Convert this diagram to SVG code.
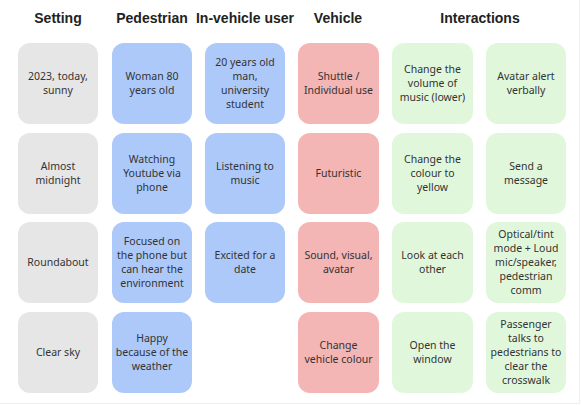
<svg xmlns="http://www.w3.org/2000/svg" width="581" height="405" viewBox="0 0 581 405">
<style>
.h{font-family:"Liberation Sans",Arial,sans-serif;font-weight:bold;font-size:14px;fill:#222;text-anchor:middle}
.t{font-family:"Noto Sans","Open Sans",sans-serif;font-size:10.5px;fill:#333;text-anchor:middle}
.c{rx:12;ry:12}
.g{fill:#e6e6e6}.b{fill:#adc9f9}.r{fill:#f4b5b5}.n{fill:#e1f7dc}
</style>
<rect width="581" height="405" fill="#fff"/>
<line x1="579.5" y1="0" x2="579.5" y2="404" stroke="#efefef"/>
<line x1="0" y1="403.5" x2="580" y2="403.5" stroke="#efefef"/>
<g id="headers">
<text class="h" x="58" y="23">Setting</text>
<text class="h" x="152" y="23">Pedestrian</text>
<text class="h" x="245" y="23">In-vehicle user</text>
<text class="h" x="338" y="23">Vehicle</text>
<text class="h" x="480" y="23">Interactions</text>
</g>
<g id="connectors"></g>
<g id="setting1"><rect class="c g" x="18" y="43" width="80" height="81"/><text class="t" x="58" y="80">2023, today,</text><text class="t" x="58" y="94">sunny</text></g>
<g id="setting2"><rect class="c g" x="18" y="133" width="80" height="81"/><text class="t" x="58" y="170">Almost</text><text class="t" x="58" y="184">midnight</text></g>
<g id="setting3"><rect class="c g" x="18" y="222" width="80" height="81"/><text class="t" x="58" y="266">Roundabout</text></g>
<g id="setting4"><rect class="c g" x="18" y="312" width="80" height="81"/><text class="t" x="58" y="356">Clear sky</text></g>

<g id="ped1"><rect class="c b" x="112" y="43" width="80" height="81"/><text class="t" x="152" y="80">Woman 80</text><text class="t" x="152" y="94">years old</text></g>
<g id="ped2"><rect class="c b" x="112" y="133" width="80" height="81"/><text class="t" x="152" y="163">Watching</text><text class="t" x="152" y="177">Youtube via</text><text class="t" x="152" y="191">phone</text></g>
<g id="ped3"><rect class="c b" x="112" y="222" width="80" height="81"/><text class="t" x="152" y="245">Focused on</text><text class="t" x="152" y="259">the phone but</text><text class="t" x="152" y="273">can hear the</text><text class="t" x="152" y="287">environment</text></g>
<g id="ped4"><rect class="c b" x="112" y="312" width="80" height="81"/><text class="t" x="152" y="342">Happy</text><text class="t" x="152" y="356">because of the</text><text class="t" x="152" y="370">weather</text></g>

<g id="user1"><rect class="c b" x="205" y="43" width="80" height="81"/><text class="t" x="245" y="66">20 years old</text><text class="t" x="245" y="80">man,</text><text class="t" x="245" y="94">university</text><text class="t" x="245" y="108">student</text></g>
<g id="user2"><rect class="c b" x="205" y="133" width="80" height="81"/><text class="t" x="245" y="170">Listening to</text><text class="t" x="245" y="184">music</text></g>
<g id="user3"><rect class="c b" x="205" y="222" width="80" height="81"/><text class="t" x="245" y="259">Excited for a</text><text class="t" x="245" y="273">date</text></g>

<g id="veh1"><rect class="c r" x="298" y="43" width="81" height="81"/><text class="t" x="338.5" y="80">Shuttle /</text><text class="t" x="338.5" y="94">Individual use</text></g>
<g id="veh2"><rect class="c r" x="298" y="133" width="81" height="81"/><text class="t" x="338.5" y="177">Futuristic</text></g>
<g id="veh3"><rect class="c r" x="298" y="222" width="81" height="81"/><text class="t" x="338.5" y="259">Sound, visual,</text><text class="t" x="338.5" y="273">avatar</text></g>
<g id="veh4"><rect class="c r" x="298" y="312" width="81" height="81"/><text class="t" x="338.5" y="349">Change</text><text class="t" x="338.5" y="363">vehicle colour</text></g>

<g id="int1a"><rect class="c n" x="392" y="43" width="81" height="81"/><text class="t" x="432.5" y="73">Change the</text><text class="t" x="432.5" y="87">volume of</text><text class="t" x="432.5" y="101">music (lower)</text></g>
<g id="int2a"><rect class="c n" x="392" y="133" width="81" height="81"/><text class="t" x="432.5" y="163">Change the</text><text class="t" x="432.5" y="177">colour to</text><text class="t" x="432.5" y="191">yellow</text></g>
<g id="int3a"><rect class="c n" x="392" y="222" width="81" height="81"/><text class="t" x="432.5" y="259">Look at each</text><text class="t" x="432.5" y="273">other</text></g>
<g id="int4a"><rect class="c n" x="392" y="312" width="81" height="81"/><text class="t" x="432.5" y="349">Open the</text><text class="t" x="432.5" y="363">window</text></g>

<g id="int1b"><rect class="c n" x="486" y="43" width="80" height="81"/><text class="t" x="526" y="80">Avatar alert</text><text class="t" x="526" y="94">verbally</text></g>
<g id="int2b"><rect class="c n" x="486" y="133" width="80" height="81"/><text class="t" x="526" y="170">Send a</text><text class="t" x="526" y="184">message</text></g>
<g id="int3b"><rect class="c n" x="486" y="222" width="80" height="81"/><text class="t" x="526" y="238">Optical/tint</text><text class="t" x="526" y="252">mode + Loud</text><text class="t" x="526" y="266">mic/speaker,</text><text class="t" x="526" y="280">pedestrian</text><text class="t" x="526" y="294">comm</text></g>
<g id="int4b"><rect class="c n" x="486" y="312" width="80" height="81"/><text class="t" x="526" y="328">Passenger</text><text class="t" x="526" y="342">talks to</text><text class="t" x="526" y="356">pedestrians to</text><text class="t" x="526" y="370">clear the</text><text class="t" x="526" y="384">crosswalk</text></g>
</svg>
